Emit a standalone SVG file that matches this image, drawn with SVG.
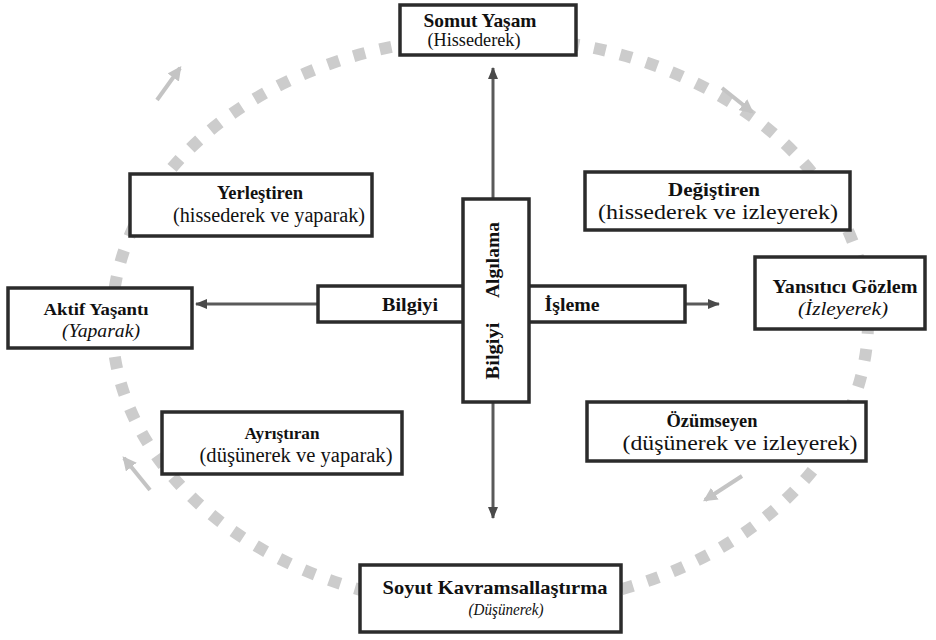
<svg xmlns="http://www.w3.org/2000/svg" width="936" height="640" viewBox="0 0 936 640" font-family="Liberation Serif, Times New Roman, serif">
<style>
.box{fill:#fff;stroke:#2b2b2b;stroke-width:3.5}
text{font-family:"Liberation Serif",serif;fill:#111;text-anchor:middle}
.t{font-weight:bold;font-size:19px}
.s{font-size:18px}
.q{font-size:20px}
.r{font-size:21px}
.i{font-style:italic}
.conn{stroke:#5a5a5a;stroke-width:3;fill:none}
.cyc{stroke:#c4c4c4;stroke-width:4;fill:none}
</style>
<defs>
<marker id="ah" viewBox="0 0 12 10" refX="11" refY="5" markerWidth="12" markerHeight="10" markerUnits="userSpaceOnUse" orient="auto">
<path d="M0,0 L12,5 L0,10 Z" fill="#4a4a4a"/>
</marker>
<marker id="ch" viewBox="0 0 12 12" refX="10" refY="6" markerWidth="14" markerHeight="14" markerUnits="userSpaceOnUse" orient="auto">
<path d="M0,0 L12,6 L0,12 Z" fill="#c4c4c4"/>
</marker>
</defs>
<rect width="936" height="640" fill="#fff"/>
<g id="cycle">
<ellipse cx="490" cy="322" rx="378" ry="285" fill="none" stroke="#cccccc" stroke-width="12" stroke-dasharray="12 15"/>
<line class="cyc" x1="157" y1="100" x2="180" y2="68" marker-end="url(#ch)"/>
<line class="cyc" x1="722" y1="88" x2="752" y2="112" marker-end="url(#ch)"/>
<line class="cyc" x1="742" y1="476" x2="705" y2="500" marker-end="url(#ch)"/>
<line class="cyc" x1="150" y1="490" x2="124" y2="458" marker-end="url(#ch)"/>
</g>
<g id="connectors">
<line class="conn" x1="493" y1="199" x2="493" y2="68" marker-end="url(#ah)"/>
<line class="conn" x1="493" y1="402" x2="493" y2="518" marker-end="url(#ah)"/>
<line class="conn" x1="318" y1="304" x2="196" y2="304" marker-end="url(#ah)"/>
<line class="conn" x1="685" y1="304" x2="719" y2="304" marker-end="url(#ah)"/>
</g>
<g id="center">
<rect class="box" x="318" y="286" width="367" height="36"/>
<rect class="box" x="463" y="199" width="66" height="203"/>
<text class="t" x="410" y="311" textLength="56" lengthAdjust="spacingAndGlyphs">Bilgiyi</text>
<text class="t" x="572" y="311" textLength="55" lengthAdjust="spacingAndGlyphs">İşleme</text>
<text class="t" transform="translate(499,260) rotate(-90)" textLength="76" lengthAdjust="spacingAndGlyphs">Algılama</text>
<text class="t" transform="translate(499,351) rotate(-90)" textLength="57" lengthAdjust="spacingAndGlyphs">Bilgiyi</text>
</g>
<g id="somut">
<rect class="box" x="400" y="5" width="176" height="50"/>
<text class="t" x="480" y="27" textLength="113" lengthAdjust="spacingAndGlyphs">Somut Yaşam</text>
<text class="s" x="474" y="46" textLength="93" lengthAdjust="spacingAndGlyphs">(Hissederek)</text>
</g>
<g id="aktif">
<rect class="box" x="8" y="288" width="184" height="60"/>
<text class="t" x="96" y="315" font-size="17" style="font-size:17px" textLength="105" lengthAdjust="spacingAndGlyphs">Aktif Yaşantı</text>
<text class="s i" x="101" y="337" textLength="78" lengthAdjust="spacingAndGlyphs">(Yaparak)</text>
</g>
<g id="yansitici">
<rect class="box" x="755" y="257" width="170" height="72"/>
<text class="t" x="845" y="293" textLength="145" lengthAdjust="spacingAndGlyphs">Yansıtıcı Gözlem</text>
<text class="s i" x="843" y="315" textLength="90" lengthAdjust="spacingAndGlyphs">(İzleyerek)</text>
</g>
<g id="soyut">
<rect class="box" x="360" y="565" width="261" height="67"/>
<text class="t" x="495" y="594" textLength="225" lengthAdjust="spacingAndGlyphs">Soyut Kavramsallaştırma</text>
<text class="s i" x="506" y="615" style="font-size:16px" textLength="75" lengthAdjust="spacingAndGlyphs">(Düşünerek)</text>
</g>
<g id="yerlestiren">
<rect class="box" x="130" y="174" width="242" height="62"/>
<text class="t" x="260" y="199" textLength="86" lengthAdjust="spacingAndGlyphs">Yerleştiren</text>
<text class="q" x="269" y="222" textLength="192" lengthAdjust="spacingAndGlyphs">(hissederek ve yaparak)</text>
</g>
<g id="degistiren">
<rect class="box" x="585" y="172" width="265" height="58"/>
<text class="t" x="714" y="196" textLength="92" lengthAdjust="spacingAndGlyphs">Değiştiren</text>
<text class="r" x="718" y="219" textLength="240" lengthAdjust="spacingAndGlyphs">(hissederek ve izleyerek)</text>
</g>
<g id="ayristiran">
<rect class="box" x="162" y="412" width="240" height="62"/>
<text class="t" x="282" y="439" style="font-size:17.5px" textLength="75" lengthAdjust="spacingAndGlyphs">Ayrıştıran</text>
<text class="q" x="296" y="462" textLength="193" lengthAdjust="spacingAndGlyphs">(düşünerek ve yaparak)</text>
</g>
<g id="ozumseyen">
<rect class="box" x="587" y="402" width="279" height="59"/>
<text class="t" x="712" y="427" textLength="91" lengthAdjust="spacingAndGlyphs">Özümseyen</text>
<text class="r" x="740" y="450" textLength="235" lengthAdjust="spacingAndGlyphs">(düşünerek ve izleyerek)</text>
</g>
</svg>
